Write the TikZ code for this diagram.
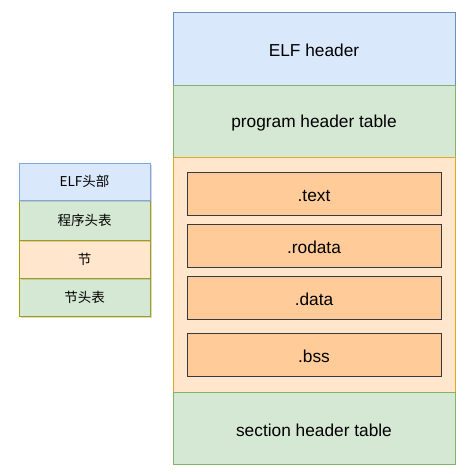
\documentclass[tikz,border=0pt]{standalone}
\usepackage{fontspec}
\setmainfont{Liberation Sans}
\newfontfamily\cjk{Noto Sans CJK SC}
\usetikzlibrary{shadows}
\definecolor{bfill}{HTML}{DAE8FC}
\definecolor{bline}{HTML}{6C8EBF}
\definecolor{gfill}{HTML}{D5E8D4}
\definecolor{gline}{HTML}{82B366}
\definecolor{ofill}{HTML}{FFE6CC}
\definecolor{oline}{HTML}{E0A81E}
\definecolor{ifill}{HTML}{FFCC99}
\definecolor{iline}{HTML}{36393D}
\definecolor{lline}{HTML}{A0A000}
\definecolor{lbline}{HTML}{7EA6E0}
\begin{document}
\begin{tikzpicture}[x=1pt,y=-1pt,
  box/.style={draw,line width=0.9pt,inner sep=0pt},
  lbl/.style={draw=none,yshift=-2pt,font=\fontsize{17.3}{19}\selectfont},
  lbox/.style={draw,line width=0.9pt,inner sep=0pt,
    drop shadow={shadow xshift=1.5pt,shadow yshift=-2pt,opacity=0.3,fill=gray}},
  llbl/.style={draw=none,font=\fontsize{13.5}{15}\selectfont\cjk}]
\useasboundingbox (0,0) rectangle (469,474);
% right column
\draw[box,fill=bfill,draw=bline] (173,12) rectangle (455,85) node[midway,lbl] (elf) {ELF header};
\draw[box,fill=gfill,draw=gline] (173,85) rectangle (455,157) node[midway,lbl] (pht) {program header table};
\draw[box,fill=ofill,draw=oline] (173,157) rectangle (455,392) coordinate[midway] (sec);
\draw[box,fill=gfill,draw=gline] (173,392) rectangle (455,464) node[midway,lbl] (sht) {section header table};
\draw[box,fill=ifill,draw=iline] (187,172) rectangle (441,215) node[midway,lbl] (text) {.text};
\draw[box,fill=ifill,draw=iline] (187,224) rectangle (441,267) node[midway,lbl] (rodata) {.rodata};
\draw[box,fill=ifill,draw=iline] (187,276) rectangle (441,319) node[midway,lbl] (data) {.data};
\draw[box,fill=ifill,draw=iline] (187,333) rectangle (441,376) node[midway,lbl] (bss) {.bss};
% left column
\draw[lbox,fill=gfill,draw=lline] (19,278) rectangle (150,316) node[midway,llbl] (l4) {节头表};
\draw[lbox,fill=ofill,draw=lline] (19,240) rectangle (150,278) node[midway,llbl] (l3) {节};
\draw[lbox,fill=gfill,draw=lline] (19,200) rectangle (150,240) node[midway,llbl] (l2) {程序头表};
\draw[lbox,fill=bfill,draw=lbline] (19,163) rectangle (150,200) node[midway,llbl] (l1) {ELF头部};
\end{tikzpicture}
\end{document}
